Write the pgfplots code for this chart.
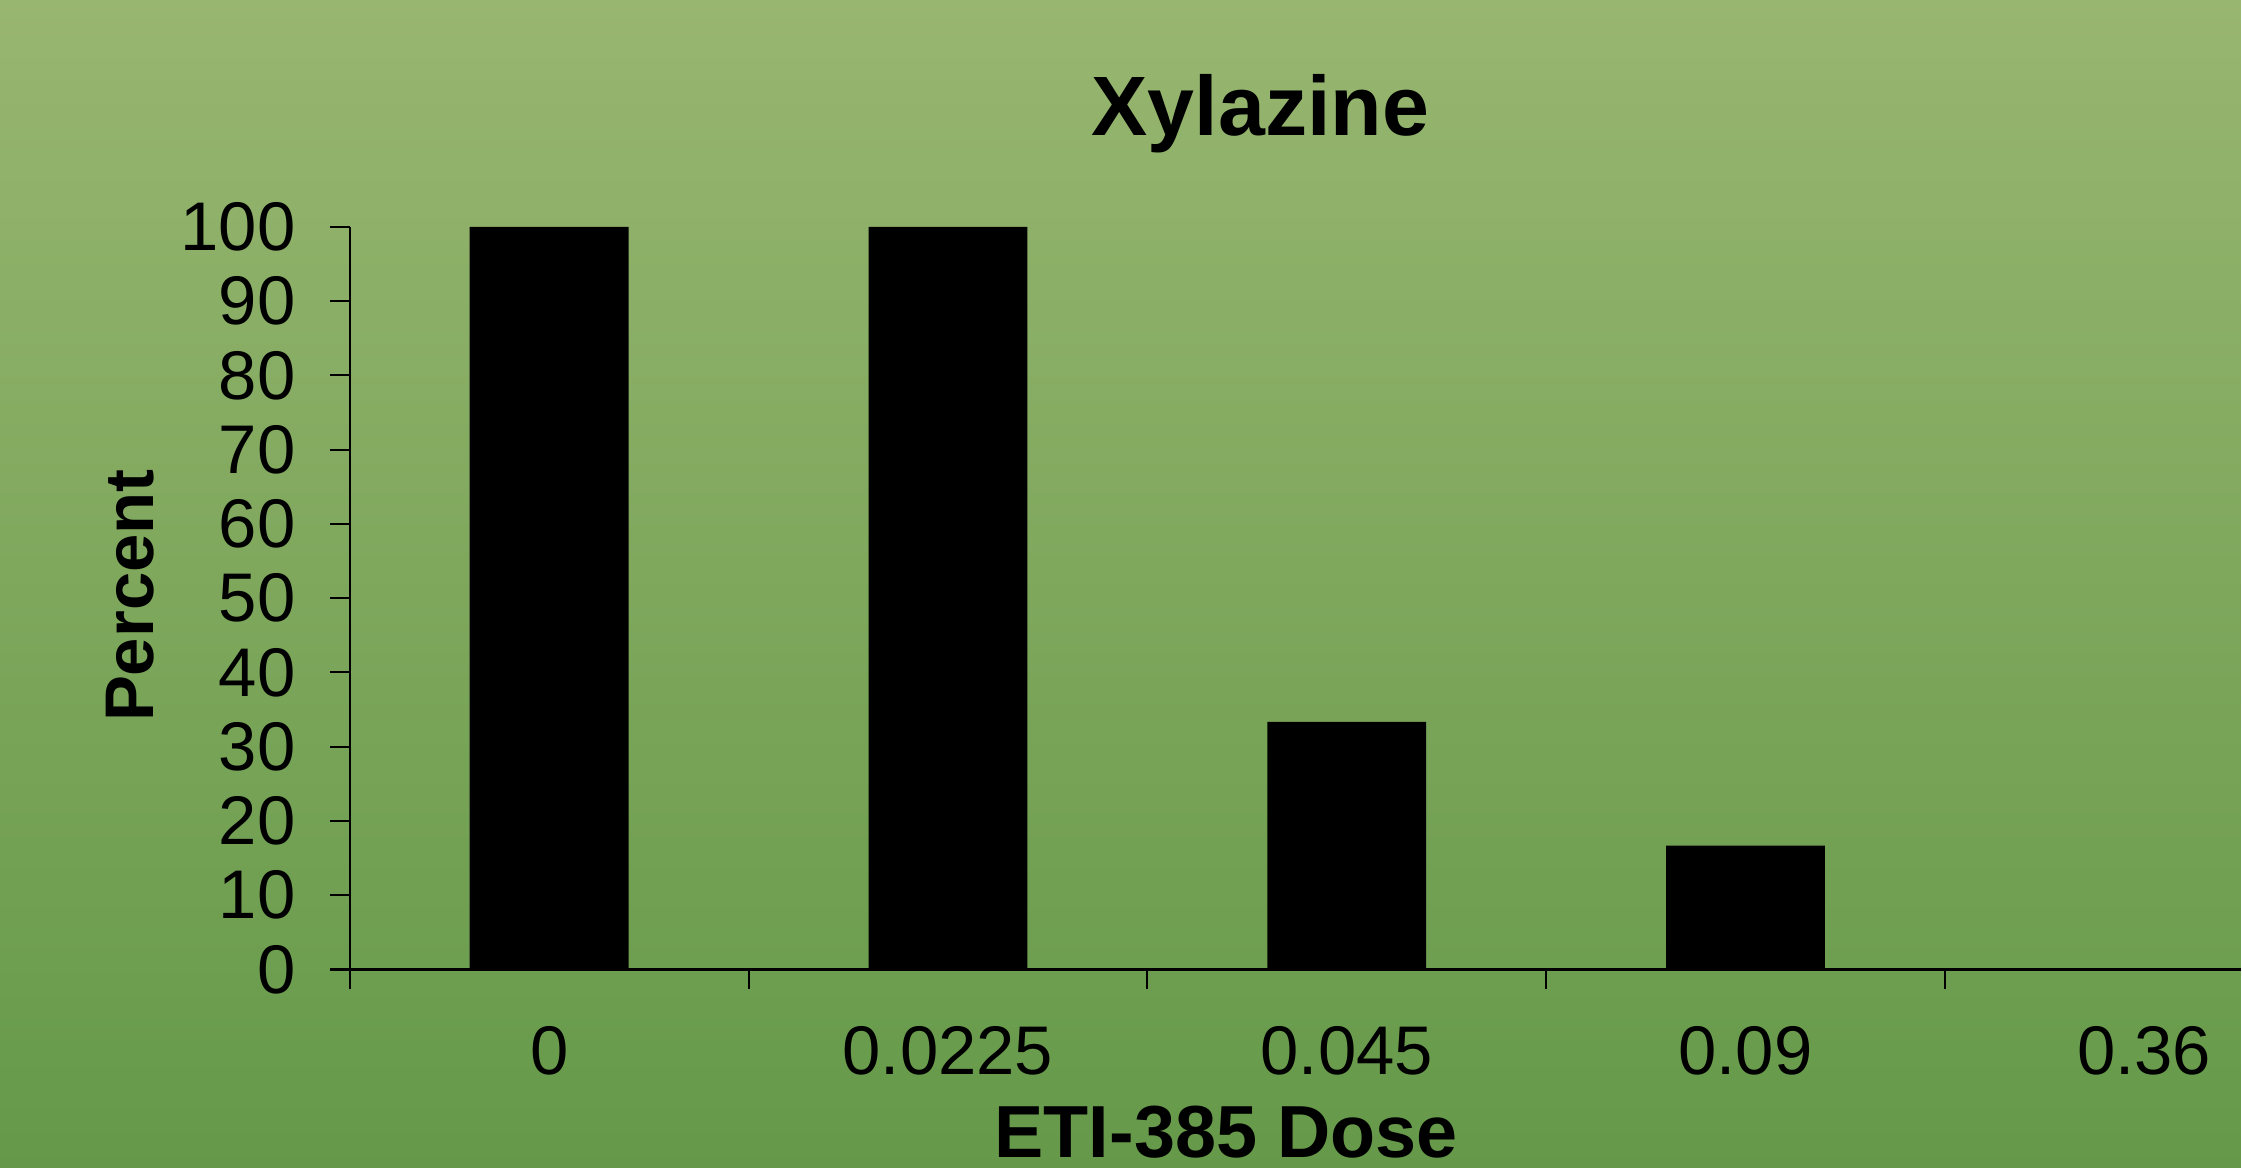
\documentclass[border=0pt]{standalone}
\usepackage{pgfplots}
\pgfplotsset{compat=1.18}
\usepackage{fontspec}
\setmainfont{Liberation Sans}
\definecolor{bgtop}{RGB}{152,182,112}
\definecolor{bgbot}{RGB}{101,153,73}
\begin{document}
\begin{tikzpicture}
\shade[top color=bgtop, bottom color=bgbot] (0,0) rectangle (224.2mm,116.8mm);
\begin{axis}[
	at = {(35.0mm,19.8mm)},
	anchor = south west,
	scale only axis,
	width = 189.2mm,
	height = 74.3mm,
	xmin = -0.5, xmax = 4.242,
	ymin = 0, ymax = 100,
	axis lines* = left,
	axis line style = {line width=0.7pt},
	tick align = outside,
	major tick length = 2mm,
	tick style = {black, line width=0.6pt},
	ytick = {0,10,...,100},
	xtick = {-0.5,0.5,1.5,2.5,3.5},
	xticklabels = {},
	extra x ticks = {0,1,2,3,4},
	extra x tick labels = {0,0.0225,0.045,0.09,0.36},
	extra x tick style = {major tick length=0pt},
	tick label style = {font=\fontsize{19.6}{19.6}\selectfont},
	/pgf/number format/assume math mode = true,
	yticklabel style = {xshift=-2.2mm},
	xticklabel style = {yshift=-4.5mm},
	ybar,
	bar width = 15.9mm,
]
\addplot[fill=black, draw=none] coordinates {
	(0, 100)
	(1, 100)
	(2, 33.33)
	(3, 16.67)
	(4, 0)
};
\end{axis}
\node[anchor=base, font=\fontsize{24}{24}\selectfont\bfseries] at (126.1mm,103.2mm) {Xylazine};
\node[anchor=base, font=\fontsize{21}{21}\selectfont\bfseries] at (122.7mm,1.0mm) {ETI-385 Dose};
\node[anchor=base, rotate=90, font=\fontsize{19.6}{19.6}\selectfont\bfseries] at (15.4mm,57.2mm) {Percent};
\end{tikzpicture}
\end{document}
